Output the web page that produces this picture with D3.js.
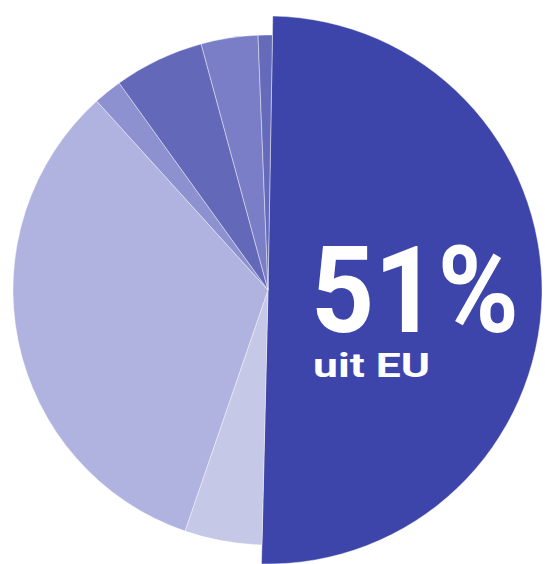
<!DOCTYPE html>
<html>
<head>
<meta charset="utf-8">
<script src="https://cdn.jsdelivr.net/npm/d3@7"></script>
<style>
  html, body { margin: 0; padding: 0; background: #fff; }
  svg { display: block; }
</style>
</head>
<body>
<svg id="chart"></svg>
<script>
// slices clockwise from the top, the big EU share first
const slices  = ['EU', 'b', 'c', 'd', 'e', 'f', 'g'];
const shares  = [50.1, 4.9, 33.0, 1.8, 5.7, 3.6, 0.9];
const colours = ['#3d45aa', '#c5c8e6', '#b0b3df', '#8d91d0', '#6468b9', '#7a7ec6', '#666aba'];
const bigLabel = '51%';
const subLabel = 'uit EU';

const W = 545, H = 564;
const cx = 268, cy = 290;
const r = 255, rBig = 274;

const svg = d3.select('#chart')
  .attr('width', W)
  .attr('height', H);

const g = svg.append('g')
  .attr('transform', `translate(${cx}, ${cy})`);

const data = slices.map((s, i) => ({ name: s, value: shares[i], colour: colours[i] }));

const pie = d3.pie()
  .value(d => d.value)
  .sort(null)
  .startAngle(Math.PI / 180)
  .endAngle(Math.PI / 180 + 2 * Math.PI);

const arc = d3.arc()
  .innerRadius(0)
  .outerRadius(d => d.index === 0 ? rBig : r);

g.selectAll('.slice')
  .data(pie(data))
  .enter()
  .append('path')
  .attr('class', 'slice')
  .attr('d', arc)
  .attr('fill', d => d.data.colour)
  .attr('stroke', 'rgba(255,255,255,0.6)')
  .attr('stroke-width', 0.7);

svg.append('text')
  .attr('x', 311).attr('y', 332)
  .attr('font-family', 'Roboto, sans-serif')
  .attr('font-weight', 700)
  .attr('font-size', 121)
  .attr('textLength', 208)
  .attr('lengthAdjust', 'spacingAndGlyphs')
  .attr('fill', '#fff')
  .text(bigLabel);

svg.append('text')
  .attr('x', 313).attr('y', 377)
  .attr('font-family', 'Roboto, sans-serif')
  .attr('font-weight', 700)
  .attr('font-size', 34)
  .attr('textLength', 117)
  .attr('lengthAdjust', 'spacingAndGlyphs')
  .attr('fill', '#fff')
  .text(subLabel);
</script>
</body>
</html>
